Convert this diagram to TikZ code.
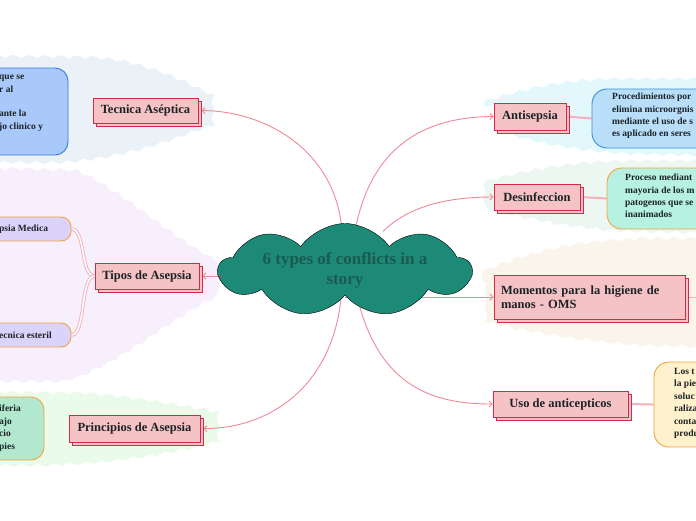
\documentclass[tikz,border=0pt]{standalone}
\usepackage{fontspec}
\setmainfont{Liberation Serif}
\usetikzlibrary{shapes.symbols,shadows,arrows.meta,decorations.pathmorphing,backgrounds}

\definecolor{boxpink}{HTML}{F5C3C6}
\definecolor{boxred}{HTML}{D42A4A}
\definecolor{edgepink}{HTML}{F08898}
\definecolor{linkpink}{HTML}{F5B0BC}
\definecolor{cloudteal}{HTML}{1D8A78}
\definecolor{cloudtext}{HTML}{1A5A50}
\definecolor{detorange}{HTML}{F3A340}
\definecolor{textdark}{HTML}{1C2326}

\begin{document}
\begin{tikzpicture}[x=1pt, y=-1pt,
    topic/.style={rectangle, draw=boxred, fill=boxpink, line width=0.9pt, text=textdark,
        font=\bfseries\fontsize{12.5}{14}\selectfont, inner sep=2pt,
        copy shadow={shadow xshift=3pt, shadow yshift=-3pt}},
    detail/.style={rectangle, rounded corners=13pt, line width=0.9pt},
    dettext/.style={inner sep=0pt, align=left, text=textdark,
        font=\bfseries\fontsize{9.5}{12.4}\selectfont},
    blob/.style={decorate, decoration={snake, amplitude=1.6pt, segment length=16pt}},
    edge/.style={draw=edgepink, line width=0.9pt, -{Straight Barb[length=3pt, width=6pt]}},
    link/.style={draw=linkpink, line width=2pt},
    twin/.style={draw=linkpink, line width=0.9pt, double=white, double distance=1.6pt}
]
\useasboundingbox (0,0) rectangle (696,520);
\clip (0,0) rectangle (696,520);

% Central idea
\node[cloud, cloud puffs=9, cloud puff arc=110, cloud ignores aspect, draw=black, fill=cloudteal,
      minimum width=252pt, minimum height=93pt, inner sep=0pt, align=center, text=cloudtext,
      font=\bfseries\fontsize{17}{20}\selectfont] (cloud) at (345,270)
      {6 types of conflicts in a\\story};

% Topics (left side)
\node[topic, minimum width=105pt, minimum height=25pt] (tec) at (145.5,110.5) {Tecnica Aséptica};
\node[topic, minimum width=104pt, minimum height=26pt] (tipos) at (147,276) {Tipos de Asepsia};
\node[topic, minimum width=131pt, minimum height=27pt] (prin) at (134.5,428.5) {Principios de Asepsia};

% Topics (right side)
\node[topic, minimum width=72pt, minimum height=27pt] (anti) at (530,116.5) {Antisepsia};
\node[topic, minimum width=86pt, minimum height=26pt] (desin) at (537,197) {Desinfeccion};
\node[topic, minimum width=191pt, minimum height=44pt, text width=177pt, align=left,
      inner sep=7pt] (mom) at (589.5,297) {Momentos para la higiene de\\manos - OMS};
\node[topic, minimum width=135pt, minimum height=26pt] (uso) at (560.5,404) {Uso de anticepticos};

% Details (left side)
\node[detail, draw={rgb,255:red,58;green,120;blue,218}, fill={rgb,255:red,169;green,201;blue,250},
      minimum width=128pt, minimum height=87pt] (tecdet) at (4,111.5) {};
\node[dettext, anchor=north west] (tectext) at (-1,75) {que se\\r al\\[12.4pt]ante la\\jo clinico y};
\node[detail, rounded corners=10pt, draw=detorange, fill={rgb,255:red,220;green,211;blue,250},
      minimum width=120pt, minimum height=24pt] (medica) at (11,229) {};
\node[dettext, anchor=west] (medtext) at (-1,229) {psia Medica};
\node[detail, rounded corners=10pt, draw=detorange, fill={rgb,255:red,220;green,211;blue,250},
      minimum width=120pt, minimum height=24pt] (esteril) at (11,335) {};
\node[dettext, anchor=west] (esttext) at (-1,335) {ecnica esteril};
\node[detail, draw=detorange, fill={rgb,255:red,177;green,232;blue,206},
      minimum width=120pt, minimum height=63pt] (pridet) at (-16,428.5) {};
\node[dettext, anchor=north west] (pritext) at (-1,405) {iferia\\ajo\\cio\\pies};

% Details (right side)
\node[detail, rounded corners=15pt, draw={rgb,255:red,60;green,143;blue,214}, fill={rgb,255:red,184;green,222;blue,249},
      minimum width=170pt, minimum height=59pt] (antidet) at (677,118.5) {};
\node[dettext, anchor=north west] (antitext) at (612,93)
      {Procedimientos por\\elimina microorgnis\\mediante el uso de s\\es aplicado en seres};
\node[detail, rounded corners=15pt, draw=detorange, fill={rgb,255:red,182;green,241;blue,225},
      minimum width=160pt, minimum height=61pt] (desdet) at (687,198.5) {};
\node[dettext, anchor=north west] (destext) at (625,174)
      {Proceso mediant\\mayoria de los m\\patogenos que se\\inanimados};
\node[detail, rounded corners=15pt, draw=detorange, fill={rgb,255:red,254;green,241;blue,203},
      minimum width=120pt, minimum height=85pt] (usodet) at (714,404.5) {};
\node[dettext, anchor=north west] (usotext) at (674,368)
      {Los t\\la pie\\soluc\\raliza\\conta\\produ};
\coordinate (momend) at (700,297);

\begin{scope}[on background layer]
% Background blobs
\fill[blob, fill={rgb,255:red,234;green,241;blue,247}] (-8,56) -- (90,57) .. controls (150,62) and (185,85) .. (212,96)
    -- (212,129) .. controls (180,140) and (130,162) .. (60,166) -- (-8,166) -- cycle;
\fill[blob, fill={rgb,255:red,247;green,239;blue,252}] (-8,168) -- (70,170) .. controls (110,185) and (170,240) .. (214,262)
    -- (214,292) .. controls (170,312) and (110,365) .. (60,378) -- (-8,378) -- cycle;
\fill[blob, fill={rgb,255:red,235;green,251;blue,233}] (-8,392) -- (80,393) .. controls (140,398) and (180,406) .. (214,412)
    -- (214,446) .. controls (180,455) and (120,468) .. (40,470) -- (-8,470) -- cycle;
\fill[blob, fill={rgb,255:red,226;green,248;blue,252}] (484,102) .. controls (520,90) and (560,80) .. (620,80) -- (704,80)
    -- (704,160) -- (620,158) .. controls (560,155) and (520,145) .. (484,134) -- cycle;
\fill[blob, fill={rgb,255:red,236;green,247;blue,242}] (484,182) .. controls (520,172) and (560,163) .. (620,162) -- (704,162)
    -- (704,238) -- (620,236) .. controls (560,232) and (520,222) .. (484,214) -- cycle;
\fill[blob, fill={rgb,255:red,249;green,245;blue,234}] (482,272) .. controls (520,255) and (570,242) .. (640,240) -- (704,240)
    -- (704,352) -- (640,350) .. controls (570,345) and (520,335) .. (482,326) -- cycle;

% Connectors from the central idea
\draw[edge] ([xshift=-3pt,yshift=-8pt]cloud.north) .. controls (336,150) and (265,111) .. ([xshift=3pt]tec.east);
\draw[edge] ([xshift=10pt,yshift=-8pt]cloud.north) .. controls (370,150) and (420,117) .. (anti.west);
\draw[edge] ([xshift=38pt,yshift=-8pt]cloud.north) .. controls (410,205) and (450,197) .. (desin.west);
\draw[edge] (cloud.center |- tipos.east) -- ([xshift=3pt]tipos.east);
\draw[edge] (cloud.center |- mom.west) -- (mom.west);
\draw[edge] ([xshift=-3pt,yshift=8pt]cloud.south) .. controls (336,390) and (265,429) .. ([xshift=3pt]prin.east);
\draw[edge] ([xshift=10pt,yshift=8pt]cloud.south) .. controls (375,385) and (430,404) .. (uso.west);

% Connectors to details
\draw[twin] (tipos.west) .. controls (80,276) and (86,229) .. (medica.east);
\draw[twin] (tipos.west) .. controls (80,276) and (86,335) .. (esteril.east);
\draw[link] (anti.east) -- (antidet.west);
\draw[link] (desin.east) -- (desdet.west);
\draw[link, line width=1pt] (mom.east) -- (momend);
\draw[link] (uso.east) -- (usodet.west);
\end{scope}

\end{tikzpicture}
\end{document}
